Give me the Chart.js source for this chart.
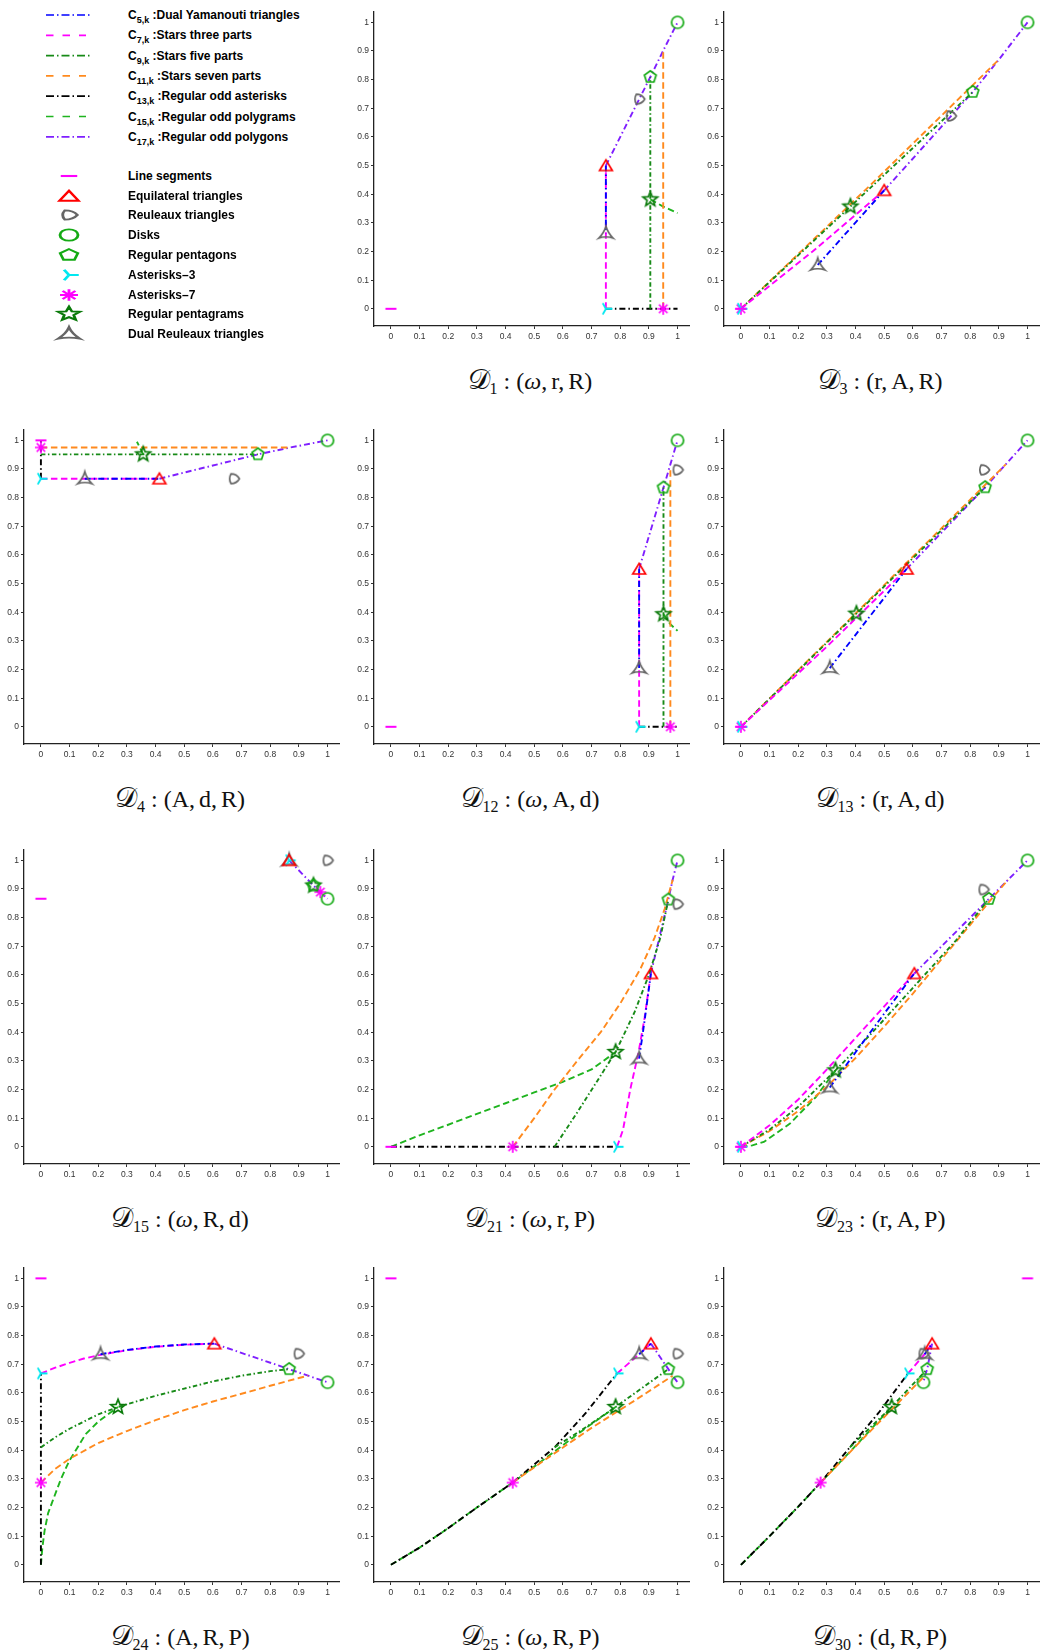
<!DOCTYPE html>
<html><head><meta charset="utf-8">
<script src="https://cdn.jsdelivr.net/npm/chart.js@4.4.0/dist/chart.umd.min.js"></script>
<style>
html,body{margin:0;padding:0;background:#fff}
body{width:1043px;height:1652px;position:relative;overflow:hidden;font-family:"Liberation Sans",Arial,sans-serif}
canvas.plot{position:absolute}
.cap{position:absolute;font-family:"Liberation Serif","DejaVu Serif",serif;font-size:24px;line-height:24px;white-space:nowrap;color:#111}
.cap sub{font-size:16px;vertical-align:-5px;line-height:0}
.cap .cal{font-size:28px}
.cap .sp{display:inline-block;width:6px}
.cap .cm{display:inline-block;width:4px}
.leg{position:absolute;font-weight:bold;font-size:12px;line-height:14px;white-space:nowrap;color:#000}
.leg sub{font-size:9px;vertical-align:-4px;line-height:0}
</style>
</head><body>
<script>
// ---------- tick labels / shape and curve names ----------
const TICK_VALUES = [0,0.1,0.2,0.3,0.4,0.5,0.6,0.7,0.8,0.9,1];
const CURVE_IDS = ['5,k','7,k','9,k','11,k','13,k','15,k','17,k'];
const CURVE_NAMES = ['Dual Yamanouti triangles','Stars three parts','Stars five parts','Stars seven parts','Regular odd asterisks','Regular odd polygrams','Regular odd polygons'];
const SHAPE_NAMES = ['Line segments','Equilateral triangles','Reuleaux triangles','Disks','Regular pentagons','Asterisks–3','Asterisks–7','Regular pentagrams','Dual Reuleaux triangles'];

// ---------- shape positions per panel (order as SHAPE_NAMES) ----------
const D1_SHAPES  = [[0,0],[0.75,0.5],[0.866,0.732],[1,1],[0.905,0.809],[0.75,0],[0.95,0],[0.905,0.382],[0.75,0.264]];
const D3_SHAPES  = [[0,0],[0.5,0.4135],[0.732,0.673],[1,1],[0.809,0.757],[0,0],[0,0],[0.382,0.357],[0.268,0.153]];
const D4_SHAPES  = [[0,1],[0.4135,0.866],[0.673,0.866],[1,1],[0.757,0.951],[0,0.866],[0,0.975],[0.357,0.951],[0.153,0.866]];
const D12_SHAPES = [[0,0],[0.866,0.551],[1,0.897],[1,1],[0.951,0.835],[0.866,0],[0.975,0],[0.951,0.393],[0.866,0.205]];
const D13_SHAPES = [[0,0],[0.578,0.551],[0.848,0.897],[1,1],[0.852,0.836],[0,0],[0,0],[0.403,0.395],[0.31,0.205]];
const D15_SHAPES = [[0,0.866],[0.866,1],[1,1],[1,0.866],[0.951,0.912],[0.866,1],[0.975,0.889],[0.951,0.912],[0.866,1]];
const D21_SHAPES = [[0,0],[0.907,0.605],[1,0.847],[1,1],[0.968,0.863],[0.789,0],[0.425,0],[0.784,0.331],[0.866,0.308]];
const D23_SHAPES = [[0,0],[0.605,0.605],[0.846,0.898],[1,1],[0.865,0.865],[0,0],[0,0],[0.33,0.267],[0.31,0.207]];
const D24_SHAPES = [[0,1],[0.605,0.772],[0.899,0.737],[1,0.637],[0.866,0.683],[0,0.668],[0,0.287],[0.269,0.551],[0.208,0.735]];
const D25_SHAPES = [[0,1],[0.907,0.772],[1,0.737],[1,0.637],[0.968,0.683],[0.789,0.668],[0.425,0.287],[0.784,0.551],[0.866,0.735]];
const D30_SHAPES = [[1,1],[0.667,0.772],[0.637,0.737],[0.637,0.637],[0.65,0.683],[0.583,0.668],[0.278,0.287],[0.526,0.551],[0.641,0.735]];

// ---------- curves per panel ----------
const D1_C5  = [[0.75,0.5],[0.75,0.264]];
const D1_C7  = [[0.75,0],[0.75,0.5]];
const D1_C9  = [[0.905,0],[0.905,0.382],[0.905,0.809]];
const D1_C11 = [[0.95,0],[0.95,0.901]];
const D1_C13 = [[0.75,0],[0.905,0],[0.95,0],[1,0]];
const D1_C15 = [[0.905,0.382],[0.95,0.357],[0.972,0.347],[1,0.334]];
const D1_C17 = [[0.75,0.5],[0.905,0.809],[0.95,0.901],[1,1]];

const D3_C5  = [[0.268,0.153],[0.5,0.4135]];
const D3_C7  = [[0,0],[0.25,0.2],[0.5,0.4135]];
const D3_C9  = [[0,0],[0.382,0.357],[0.809,0.757]];
const D3_C11 = [[0,0],[0.45,0.43],[0.901,0.871]];
const D3_C17 = [[0.5,0.4135],[0.809,0.757],[0.901,0.871],[1,1]];

const D4_C5  = [[0.153,0.866],[0.4135,0.866]];
const D4_C7  = [[0,0.866],[0.4135,0.866]];
const D4_C9  = [[0,0.951],[0.357,0.951],[0.757,0.951]];
const D4_C11 = [[0,0.975],[0.871,0.975]];
const D4_C13 = [[0,0.866],[0,0.951],[0,0.975],[0,1]];
const D4_C15 = [[0.357,0.951],[0.345,0.975],[0.335,0.995]];
const D4_C17 = [[0.4135,0.866],[0.757,0.951],[0.871,0.975],[1,1]];

const D12_C5  = [[0.866,0.205],[0.866,0.551]];
const D12_C7  = [[0.866,0],[0.866,0.551]];
const D12_C9  = [[0.951,0],[0.951,0.393],[0.951,0.835]];
const D12_C11 = [[0.975,0],[0.975,0.9]];
const D12_C13 = [[0.866,0],[1,0]];
const D12_C15 = [[0.951,0.393],[0.975,0.358],[1,0.335]];
const D12_C17 = [[0.866,0.551],[0.951,0.835],[0.975,0.916],[1,1]];

const D13_C5  = [[0.31,0.205],[0.578,0.551]];
const D13_C7  = [[0,0],[0.3,0.28],[0.578,0.551]];
const D13_C9  = [[0,0],[0.403,0.395],[0.852,0.836]];
const D13_C11 = [[0,0],[0.46,0.455],[0.924,0.916]];
const D13_C17 = [[0.578,0.551],[0.852,0.836],[0.924,0.916],[1,1]];

const D15_C17 = [[0.866,1],[0.951,0.912],[0.975,0.889],[1,0.866]];

const D21_C5  = [[0.866,0.308],[0.885,0.44],[0.907,0.605]];
const D21_C7  = [[0.789,0],[0.81,0.06],[0.835,0.2],[0.864,0.33],[0.885,0.45],[0.907,0.605]];
const D21_C9  = [[0.571,0],[0.65,0.12],[0.72,0.23],[0.784,0.331],[0.85,0.47],[0.9,0.6],[0.94,0.73],[0.968,0.863]];
const D21_C11 = [[0.425,0],[0.5,0.1],[0.571,0.2],[0.65,0.3],[0.732,0.4],[0.8,0.5],[0.87,0.62],[0.92,0.73],[0.955,0.83],[0.983,0.932]];
const D21_C13 = [[0,0],[0.425,0],[0.571,0],[0.789,0]];
const D21_C15 = [[0,0],[0.1,0.04],[0.2,0.077],[0.3,0.115],[0.4,0.152],[0.5,0.19],[0.6,0.227],[0.7,0.27],[0.784,0.331]];
const D21_C17 = [[0.907,0.605],[0.968,0.863],[0.983,0.932],[1,1]];

const D23_C5  = [[0.31,0.207],[0.4,0.33],[0.5,0.465],[0.605,0.605]];
const D23_C7  = [[0,0],[0.1,0.075],[0.2,0.165],[0.3,0.27],[0.4,0.38],[0.5,0.49],[0.605,0.605]];
const D23_C9  = [[0,0],[0.1,0.06],[0.2,0.14],[0.33,0.267],[0.45,0.39],[0.6,0.555],[0.75,0.72],[0.865,0.865]];
const D23_C11 = [[0,0],[0.1,0.055],[0.2,0.125],[0.3,0.21],[0.4,0.31],[0.5,0.42],[0.6,0.535],[0.7,0.655],[0.8,0.775],[0.87,0.86],[0.932,0.932]];
const D23_C15 = [[0,0],[0.04,0.005],[0.08,0.017],[0.17,0.08],[0.26,0.172],[0.33,0.267]];
const D23_C17 = [[0.605,0.605],[0.865,0.865],[0.932,0.932],[1,1]];

const D24_C5  = [[0.208,0.735],[0.3,0.75],[0.4,0.762],[0.5,0.769],[0.605,0.772]];
const D24_C7  = [[0,0.668],[0.05,0.688],[0.1,0.705],[0.15,0.72],[0.208,0.733],[0.3,0.749],[0.4,0.761],[0.5,0.768],[0.605,0.772]];
const D24_C9  = [[0,0.41],[0.05,0.445],[0.1,0.475],[0.2,0.525],[0.269,0.551],[0.4,0.59],[0.5,0.615],[0.6,0.64],[0.7,0.66],[0.8,0.676],[0.866,0.683]];
const D24_C11 = [[0,0.287],[0.05,0.335],[0.1,0.37],[0.2,0.425],[0.3,0.467],[0.4,0.505],[0.5,0.54],[0.6,0.57],[0.7,0.597],[0.8,0.625],[0.9,0.652],[0.932,0.66]];
const D24_C13 = [[0,0],[0,0.287],[0,0.41],[0,0.668]];
const D24_C15 = [[0,0],[0.005,0.06],[0.013,0.12],[0.025,0.18],[0.041,0.223],[0.07,0.3],[0.099,0.363],[0.156,0.456],[0.2,0.5],[0.269,0.551]];
const D24_C17 = [[0.605,0.772],[0.866,0.683],[0.932,0.66],[1,0.637]];

const D25_C5  = [[0.866,0.735],[0.907,0.772]];
const D25_C7  = [[0.789,0.668],[0.866,0.735],[0.907,0.772]];
const D25_C9  = [[0.571,0.41],[0.68,0.48],[0.784,0.551],[0.968,0.683]];
const D25_C11 = [[0.425,0.287],[0.55,0.375],[0.7,0.478],[0.85,0.573],[0.983,0.66]];
const D25_C13 = [[0,0],[0.1,0.06],[0.2,0.128],[0.3,0.2],[0.425,0.287],[0.571,0.41],[0.68,0.53],[0.789,0.668]];
const D25_C15 = [[0,0],[0.1,0.06],[0.2,0.128],[0.3,0.2],[0.425,0.287],[0.55,0.38],[0.67,0.47],[0.784,0.551]];
const D25_C17 = [[0.907,0.772],[0.968,0.683],[0.983,0.66],[1,0.637]];

const D30_C5  = [[0.641,0.735],[0.667,0.772]];
const D30_C7  = [[0.583,0.668],[0.641,0.735],[0.667,0.772]];
const D30_C9  = [[0.38,0.41],[0.45,0.478],[0.526,0.551],[0.65,0.683]];
const D30_C11 = [[0.278,0.287],[0.45,0.465],[0.642,0.66]];
const D30_C13 = [[0,0],[0.1,0.1],[0.2,0.203],[0.278,0.287],[0.38,0.41],[0.48,0.53],[0.583,0.668]];
const D30_C15 = [[0,0],[0.1,0.1],[0.2,0.203],[0.278,0.287],[0.4,0.415],[0.526,0.551]];
const D30_C17 = [[0.667,0.772],[0.65,0.683],[0.642,0.66],[0.637,0.637]];

// ---------- panel table built from the arrays above ----------
const PANELS = [
  {col:1,row:0,sub:'1', vars:['ω','r','R'], shapes:D1_SHAPES, curves:[D1_C5,D1_C7,D1_C9,D1_C11,D1_C13,D1_C15,D1_C17]},
  {col:2,row:0,sub:'3', vars:['r','A','R'], shapes:D3_SHAPES, curves:[D3_C5,D3_C7,D3_C9,D3_C11,null,null,D3_C17]},
  {col:0,row:1,sub:'4', vars:['A','d','R'], shapes:D4_SHAPES, curves:[D4_C5,D4_C7,D4_C9,D4_C11,D4_C13,D4_C15,D4_C17]},
  {col:1,row:1,sub:'12',vars:['ω','A','d'], shapes:D12_SHAPES,curves:[D12_C5,D12_C7,D12_C9,D12_C11,D12_C13,D12_C15,D12_C17]},
  {col:2,row:1,sub:'13',vars:['r','A','d'], shapes:D13_SHAPES,curves:[D13_C5,D13_C7,D13_C9,D13_C11,null,null,D13_C17]},
  {col:0,row:2,sub:'15',vars:['ω','R','d'], shapes:D15_SHAPES,curves:[null,null,null,null,null,null,D15_C17]},
  {col:1,row:2,sub:'21',vars:['ω','r','P'], shapes:D21_SHAPES,curves:[D21_C5,D21_C7,D21_C9,D21_C11,D21_C13,D21_C15,D21_C17]},
  {col:2,row:2,sub:'23',vars:['r','A','P'], shapes:D23_SHAPES,curves:[D23_C5,D23_C7,D23_C9,D23_C11,null,D23_C15,D23_C17]},
  {col:0,row:3,sub:'24',vars:['A','R','P'], shapes:D24_SHAPES,curves:[D24_C5,D24_C7,D24_C9,D24_C11,D24_C13,D24_C15,D24_C17]},
  {col:1,row:3,sub:'25',vars:['ω','R','P'], shapes:D25_SHAPES,curves:[D25_C5,D25_C7,D25_C9,D25_C11,D25_C13,D25_C15,D25_C17]},
  {col:2,row:3,sub:'30',vars:['d','R','P'], shapes:D30_SHAPES,curves:[D30_C5,D30_C7,D30_C9,D30_C11,D30_C13,D30_C15,D30_C17]}
];

// ---------- styles ----------
const CURVE_COLORS = ['#0000ff','#ff00ff','#178a17','#ff8a1e','#000000','#1fb41f','#7f1fff'];
const DASHDOT = [6,3,1.5,3], DASHED = [6.5,3.5];
const CURVE_DASH = [DASHDOT,DASHED,[4.5,2.5,1.5,2.5],DASHED,DASHDOT,DASHED,DASHDOT];
const LEG_DASH = ['8 3 1.5 3','7.5 9','8 3 1.5 3','7.5 9','8 3 1.5 3','7.5 9','8 3 1.5 3'];
const COL_X = [24,374,724], ROW_Y = [12,430,850,1268];
const PW = 318, PH = 314, YW = 30, XH = 24, PT = 8, PR = 4;
const XMIN = -0.059, XMAX = 1.04, YMIN = -0.06, YMAX = 1.036;

function drawShape(g, kind, lw){
  g.lineJoin='miter'; g.lineCap='butt'; g.lineWidth=lw;
  g.beginPath();
  if(kind===0){ g.strokeStyle='#ff00ff'; g.lineWidth=lw+0.3; g.moveTo(-5.5,0); g.lineTo(5.5,0); g.stroke(); }
  else if(kind===1){ g.strokeStyle='#ff0000'; g.moveTo(0,-5.6); g.lineTo(6.4,5); g.lineTo(-6.4,5); g.closePath(); g.stroke(); }
  else if(kind===2){
    g.strokeStyle='#666666';
    const r=5.6, V=[[r,0],[r*Math.cos(2*Math.PI/3),r*Math.sin(2*Math.PI/3)],[r*Math.cos(4*Math.PI/3),r*Math.sin(4*Math.PI/3)]];
    const s=r*Math.sqrt(3), d=Math.PI/180;
    g.arc(V[0][0],V[0][1],s,150*d,210*d);
    g.arc(V[1][0],V[1][1],s,270*d,330*d);
    g.arc(V[2][0],V[2][1],s,30*d,90*d);
    g.closePath(); g.stroke();
  }
  else if(kind===3){ g.strokeStyle='#14aa14'; g.arc(0,0,6,0,Math.PI*2); g.stroke(); }
  else if(kind===4){ g.strokeStyle='#14aa14';
    for(let i=0;i<5;i++){const a=-Math.PI/2+i*2*Math.PI/5; const x=6.2*Math.cos(a), y=6.2*Math.sin(a); i?g.lineTo(x,y):g.moveTo(x,y);} g.closePath(); g.stroke(); }
  else if(kind===5){ g.strokeStyle='#00e8f0'; g.lineWidth=lw+0.2;
    for(let i=0;i<3;i++){const a=i*2*Math.PI/3; g.moveTo(0,0); g.lineTo(6.5*Math.cos(a),6.5*Math.sin(a));} g.stroke(); }
  else if(kind===6){ g.strokeStyle='#ff00ff';
    for(let i=0;i<4;i++){const a=i*Math.PI/4; g.moveTo(-6*Math.cos(a),-6*Math.sin(a)); g.lineTo(6*Math.cos(a),6*Math.sin(a));} g.stroke(); }
  else if(kind===7){ g.strokeStyle='#0a7a0a'; g.lineWidth=lw;
    for(let i=0;i<10;i++){const a=-Math.PI/2+i*Math.PI/5; const rr=i%2?3.3:7.6; const x=rr*Math.cos(a), y=rr*Math.sin(a); i?g.lineTo(x,y):g.moveTo(x,y);} g.closePath(); g.stroke(); }
  else if(kind===8){ g.strokeStyle='#666666';
    const V=[[0,-7],[7.2,5],[-7.2,5]];
    g.moveTo(V[0][0],V[0][1]);
    for(let i=0;i<3;i++){const a=V[i], b=V[(i+1)%3]; const mx=(a[0]+b[0])/2*0.5, my=(a[1]+b[1])/2*0.5; g.quadraticCurveTo(mx,my,b[0],b[1]);}
    g.closePath(); g.stroke(); }
}
function makeMarker(kind){
  const S=24, c=document.createElement('canvas'); c.width=S; c.height=S;
  const g=c.getContext('2d'); g.translate(S/2,S/2); drawShape(g,kind,1.7); return c;
}
const MARKERS = SHAPE_NAMES.map((_,i)=>makeMarker(i));

// ---------- legend ----------
(function(){
  const svgNS='http://www.w3.org/2000/svg';
  const svg=document.createElementNS(svgNS,'svg');
  svg.setAttribute('width','100'); svg.setAttribute('height','150');
  svg.style.cssText='position:absolute;left:0;top:0';
  CURVE_NAMES.forEach((name,i)=>{
    const y=15+i*20.3;
    const dashed = LEG_DASH[i].indexOf('1.5')<0;
    const ln=document.createElementNS(svgNS,'line');
    ln.setAttribute('x1',46); ln.setAttribute('x2',dashed?86:92); ln.setAttribute('y1',y); ln.setAttribute('y2',y);
    ln.setAttribute('stroke',CURVE_COLORS[i]); ln.setAttribute('stroke-width','1.7'); ln.setAttribute('stroke-dasharray',LEG_DASH[i]);
    svg.appendChild(ln);
    const d=document.createElement('div'); d.className='leg';
    d.style.left='128px'; d.style.top=(y-7)+'px';
    d.innerHTML='C<sub>'+CURVE_IDS[i]+'</sub> :'+name;
    document.body.appendChild(d);
  });
  document.body.appendChild(svg);
  SHAPE_NAMES.forEach((name,i)=>{
    const y=175.7+i*19.8;
    const c=document.createElement('canvas'); c.width=40; c.height=24;
    c.style.cssText='position:absolute;left:'+(69-20)+'px;top:'+(y-12)+'px';
    const g=c.getContext('2d'); g.translate(20,12); g.scale(1.5,0.95); drawShape(g,i,1.9);
    document.body.appendChild(c);
    const d=document.createElement('div'); d.className='leg';
    d.style.left='128px'; d.style.top=(y-7)+'px'; d.textContent=name;
    document.body.appendChild(d);
  });
})();

// ---------- panels ----------
function fmt(v){ return String(Number(v.toFixed(2))); }
function axisOpts(isX, min, max){
  return {
    type:'linear', min:min, max:max,
    afterBuildTicks:(s)=>{ s.ticks = TICK_VALUES.map(v=>({value:v})); },
    afterFit:(s)=>{ if(isX) s.height=XH; else s.width=YW; },
    ticks:{autoSkip:false, maxRotation:0, color:'#333', font:{family:'"Liberation Sans", Arial, sans-serif', size:8.5}, padding: isX?3:2, callback:(v)=>fmt(v)},
    grid:{display:true, drawOnChartArea:false, drawTicks:true, tickLength:3, color:'#333', lineWidth:1},
    border:{display:true, color:'#222', width:1.3}
  };
}
PANELS.forEach(p=>{
  const W=YW+PW+PR, H=PT+PH+XH;
  const cv=document.createElement('canvas'); cv.className='plot';
  cv.width=W; cv.height=H;
  cv.style.left=(COL_X[p.col]-YW)+'px'; cv.style.top=(ROW_Y[p.row]-PT)+'px';
  cv.style.width=W+'px'; cv.style.height=H+'px';
  document.body.appendChild(cv);
  const datasets=[];
  p.shapes.forEach((pt,i)=>{
    if(!pt) return;
    datasets.push({label:SHAPE_NAMES[i], data:[{x:pt[0],y:pt[1]}], showLine:false, pointStyle:MARKERS[i], pointRadius:6, pointHoverRadius:6, order:0, clip:false});
  });
  p.curves.forEach((c,i)=>{
    if(!c) return;
    datasets.push({label:'C'+CURVE_IDS[i], data:c.map(q=>({x:q[0],y:q[1]})), showLine:true, fill:false, tension:0,
      borderColor:CURVE_COLORS[i], borderWidth:1.9, borderDash:CURVE_DASH[i], pointRadius:0, pointHoverRadius:0, order:1, clip:false});
  });
  new Chart(cv,{type:'scatter', data:{datasets},
    options:{responsive:false, animation:false, devicePixelRatio:1,
      layout:{padding:{top:PT,right:PR,left:0,bottom:0}},
      plugins:{legend:{display:false}, tooltip:{enabled:false}},
      events:[],
      scales:{x:axisOpts(true,XMIN,XMAX), y:axisOpts(false,YMIN,YMAX)}
    }});
  const cap=document.createElement('div'); cap.className='cap';
  cap.innerHTML='<span class="cal">𝒟</span><sub>'+p.sub+'</sub><span class="sp"></span>:<span class="sp"></span>('+
    p.vars.map(v=>v==='ω'?'<i>ω</i>':v).join(',<span class="cm"></span>')+')';
  document.body.appendChild(cap);
  const cx=COL_X[p.col]+156, base=ROW_Y[p.row]+376.3;
  cap.style.top=(base-20.5)+'px';
  cap.style.left=(cx - cap.offsetWidth/2)+'px';
});
</script>
</body></html>
